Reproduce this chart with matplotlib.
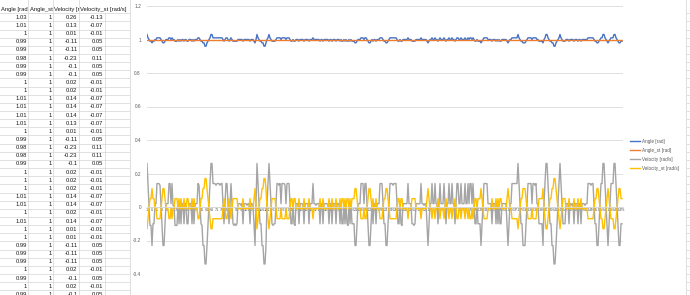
import matplotlib.pyplot as plt
from matplotlib.patches import Rectangle
from matplotlib.transforms import Bbox
import numpy as np

# sheet columns A-D
headers = ["Angle [rad]", "Angle_st [rad]", "Velocity [rad/s]", "Velocity_st [rad/s]"]

# series (first 35 rows are the ones visible in the sheet)
velocity = [
    0.26, 0.13, 0.01, -0.11, -0.11, -0.23, -0.1, -0.1, 0.02, 0.02,
    0.14, 0.14, 0.14, 0.13, 0.01, -0.11, -0.23, -0.23, -0.1, 0.02,
    0.02, 0.02, 0.14, 0.14, 0.02, 0.14, 0.01, 0.01, -0.11, -0.11,
    -0.11, 0.02, -0.1, 0.02, -0.1,
    0.02, 0.02, -0.1, 0.02, 0.02, -0.1, -0.1, 0.02, 0.02, 0.02, -0.1, 0.02, -0.1, 0.02, 0.02, 0.02,
    0.14, 0.13, 0.02, -0.1, -0.11, -0.23, -0.23, -0.34, -0.34, -0.23, -0.1, 0.02, 0.14, 0.26, 0.26,
    0.14, 0.14, 0.14, 0.13, 0.14, 0.14, 0.14, 0.13, 0.14, 0.14,
    0.02, -0.1, 0.02, 0.14, 0.14, 0.02, -0.1, 0.02, 0.14,
    0.02, -0.1, -0.11, -0.1, -0.11, -0.1, 0.02,
    0.02, 0.02, 0.01, 0.02, -0.1, 0.02, 0.02, 0.02, 0.01, 0.02, 0.02, -0.1, 0.02, 0.02, 0.01,
    -0.1, -0.23, 0.02, 0.26, 0.14, 0.02, -0.1, -0.1, -0.23, -0.23, -0.34, -0.34, -0.23, 0.02, 0.14, 0.26,
    0.14, 0.02, -0.1, -0.11, -0.1, -0.1, 0.02,
    0.14, 0.14, 0.13, 0.14, 0.02, 0.14, 0.14, 0.14, 0.13, 0.02, 0.14, 0.14, 0.14, 0.02,
    -0.1, -0.1, 0.02, -0.1, -0.11, 0.02,
    0.02, 0.02, -0.1, 0.02, 0.02, 0.02, 0.01, -0.1, 0.02, 0.02, 0.02, 0.02, -0.1, 0.02, 0.02, 0.02, 0.14,
    0.02, 0.02, 0.01, 0.02, 0.02, 0.02, -0.1, 0.02, 0.02, -0.1, 0.02, 0.02, 0.02,
    0.02, 0.01, -0.1, 0.02, 0.02, -0.1, 0.02, 0.02, 0.02, -0.1, 0.02, 0.02, 0.02,
    -0.1, 0.02, -0.1, -0.1, 0.02, -0.1, 0.02, -0.1, -0.11, 0.02, -0.1, 0.02, -0.1, -0.1, -0.1,
    -0.23, -0.23, -0.1, 0.02, 0.02, 0.02, 0.14, 0.14, 0.14, 0.02, 0.14, 0.14, 0.02, -0.1, -0.23, -0.23,
    -0.1, 0.02, -0.1, 0.02, 0.02, -0.1, 0.02, 0.02, 0.02, 0.14, 0.14, 0.14,
    0.02, -0.1, -0.1, -0.23, -0.23, -0.1, 0.02, 0.14, 0.14, 0.14, 0.13, 0.14, 0.14, 0.14, 0.02,
    -0.1, -0.1, 0.02, -0.1, -0.11, 0.02, 0.02, 0.02, 0.02, 0.02, 0.14, 0.02, 0.02, 0.02,
    -0.1, -0.1, -0.11, -0.1, 0.02, 0.02, 0.02, 0.02, 0.02, 0.14, 0.02, 0.02, 0.01, 0.02, 0.02, -0.1, -0.23, -0.1,
    0.02, 0.02, 0.14, 0.02, 0.02, 0.14, 0.02, 0.02, -0.1, 0.02,
    0.14, 0.02, 0.02, 0.02, 0.14, 0.02, -0.1, 0.02, 0.02, 0.14,
    0.02, 0.02, 0.14, 0.02, 0.02, -0.1, 0.02, 0.14, 0.14, 0.02,
    0.02, 0.14, 0.02, 0.02, 0.02, 0.14, 0.02, 0.02,
    0.14, 0.02, 0.14, 0.14, 0.02, 0.14, 0.02, -0.1, -0.1, 0.02, -0.1, -0.1, -0.1, -0.23, -0.1,
    0.02, 0.14, 0.14, 0.14, 0.14, 0.02, 0.02,
    0.02, 0.02, -0.1, 0.02, 0.02, 0.02, -0.1, 0.02, -0.1, 0.02, -0.1, -0.1, 0.02, 0.02, 0.02, 0.02, 0.02, -0.1,
    -0.23, -0.1, 0.02, 0.02, 0.14, 0.14, 0.14, 0.14, 0.14, 0.14, 0.26,
    0.14, 0.02, -0.1, -0.1, -0.23, -0.23, -0.23, -0.1, 0.02, 0.14, 0.14,
    0.14, 0.14, 0.02, 0.14, 0.14, 0.13, 0.14, 0.02, 0.02, -0.1, -0.1, -0.1, -0.1, -0.23,
    0.02, 0.14, 0.26, 0.26, 0.14, 0.02, -0.1, -0.1, -0.23, -0.23, -0.34, -0.34,
    -0.23, -0.1, 0.02, 0.14, 0.26, 0.14, 0.02, -0.1, -0.1, -0.1, 0.02,
    0.02, 0.02, -0.1, 0.02, 0.02, 0.01, 0.02, -0.1, 0.02, 0.02, 0.02,
    -0.1, 0.02, 0.02, -0.1, 0.02, 0.02, 0.02, 0.01, 0.02, 0.02,
    0.14, 0.14, 0.14, 0.13, 0.14, 0.14, 0.02, -0.1, -0.1, -0.23, -0.23, -0.1,
    0.02, 0.14, 0.14, 0.26, 0.26, 0.14, 0.02, -0.1, -0.23, -0.1, 0.02, 0.14,
    0.14, 0.14, 0.26, 0.26, 0.14, 0.02, -0.1, -0.23, -0.23, -0.1, -0.1,
]

velocity_st = [
    -0.13, -0.07, -0.01, 0.05, 0.05, 0.11, 0.05, 0.05, -0.01, -0.01,
    -0.07, -0.07, -0.07, -0.07, -0.01, 0.05, 0.11, 0.11, 0.05, -0.01,
    -0.01, -0.01, -0.07, -0.07, -0.01, -0.07, -0.01, -0.01, 0.05, 0.05,
    0.05, -0.01, 0.05, -0.01, 0.05,
    -0.01, -0.01, 0.05, -0.01, -0.01, 0.05, 0.05, -0.01, -0.01, -0.01, 0.05, -0.01, 0.05, -0.01, -0.01, -0.01,
    -0.07, -0.07, -0.01, 0.05, 0.05, 0.11, 0.11, 0.17, 0.17, 0.11, 0.05, -0.01, -0.07, -0.13, -0.13,
    -0.07, -0.07, -0.07, -0.07, -0.07, -0.07, -0.07, -0.07, -0.07, -0.07,
    -0.01, 0.05, -0.01, -0.07, -0.07, -0.01, 0.05, -0.01, -0.07,
    -0.01, 0.05, 0.05, 0.05, 0.05, 0.05, -0.01,
    -0.01, -0.01, -0.01, -0.01, 0.05, -0.01, -0.01, -0.01, -0.01, -0.01, -0.01, 0.05, -0.01, -0.01, -0.01,
    0.05, 0.11, -0.01, -0.13, -0.07, -0.01, 0.05, 0.05, 0.11, 0.11, 0.17, 0.17, 0.11, -0.01, -0.07, -0.13,
    -0.07, -0.01, 0.05, 0.05, 0.05, 0.05, -0.01,
    -0.07, -0.07, -0.07, -0.07, -0.01, -0.07, -0.07, -0.07, -0.07, -0.01, -0.07, -0.07, -0.07, -0.01,
    0.05, 0.05, -0.01, 0.05, 0.05, -0.01,
    -0.01, -0.01, 0.05, -0.01, -0.01, -0.01, -0.01, 0.05, -0.01, -0.01, -0.01, -0.01, 0.05, -0.01, -0.01, -0.01, -0.07,
    -0.01, -0.01, -0.01, -0.01, -0.01, -0.01, 0.05, -0.01, -0.01, 0.05, -0.01, -0.01, -0.01,
    -0.01, -0.01, 0.05, -0.01, -0.01, 0.05, -0.01, -0.01, -0.01, 0.05, -0.01, -0.01, -0.01,
    0.05, -0.01, 0.05, 0.05, -0.01, 0.05, -0.01, 0.05, 0.05, -0.01, 0.05, -0.01, 0.05, 0.05, 0.05,
    0.11, 0.11, 0.05, -0.01, -0.01, -0.01, -0.07, -0.07, -0.07, -0.01, -0.07, -0.07, -0.01, 0.05, 0.11, 0.11,
    0.05, -0.01, 0.05, -0.01, -0.01, 0.05, -0.01, -0.01, -0.01, -0.07, -0.07, -0.07,
    -0.01, 0.05, 0.05, 0.11, 0.11, 0.05, -0.01, -0.07, -0.07, -0.07, -0.07, -0.07, -0.07, -0.07, -0.01,
    0.05, 0.05, -0.01, 0.05, 0.05, -0.01, -0.01, -0.01, -0.01, -0.01, -0.07, -0.01, -0.01, -0.01,
    0.05, 0.05, 0.05, 0.05, -0.01, -0.01, -0.01, -0.01, -0.01, -0.07, -0.01, -0.01, -0.01, -0.01, -0.01, 0.05, 0.11, 0.05,
    -0.01, -0.01, -0.07, -0.01, -0.01, -0.07, -0.01, -0.01, 0.05, -0.01,
    -0.07, -0.01, -0.01, -0.01, -0.07, -0.01, 0.05, -0.01, -0.01, -0.07,
    -0.01, -0.01, -0.07, -0.01, -0.01, 0.05, -0.01, -0.07, -0.07, -0.01,
    -0.01, -0.07, -0.01, -0.01, -0.01, -0.07, -0.01, -0.01,
    -0.07, -0.01, -0.07, -0.07, -0.01, -0.07, -0.01, 0.05, 0.05, -0.01, 0.05, 0.05, 0.05, 0.11, 0.05,
    -0.01, -0.07, -0.07, -0.07, -0.07, -0.01, -0.01,
    -0.01, -0.01, 0.05, -0.01, -0.01, -0.01, 0.05, -0.01, 0.05, -0.01, 0.05, 0.05, -0.01, -0.01, -0.01, -0.01, -0.01, 0.05,
    0.11, 0.05, -0.01, -0.01, -0.07, -0.07, -0.07, -0.07, -0.07, -0.07, -0.13,
    -0.07, -0.01, 0.05, 0.05, 0.11, 0.11, 0.11, 0.05, -0.01, -0.07, -0.07,
    -0.07, -0.07, -0.01, -0.07, -0.07, -0.07, -0.07, -0.01, -0.01, 0.05, 0.05, 0.05, 0.05, 0.11,
    -0.01, -0.07, -0.13, -0.13, -0.07, -0.01, 0.05, 0.05, 0.11, 0.11, 0.17, 0.17,
    0.11, 0.05, -0.01, -0.07, -0.13, -0.07, -0.01, 0.05, 0.05, 0.05, -0.01,
    -0.01, -0.01, 0.05, -0.01, -0.01, -0.01, -0.01, 0.05, -0.01, -0.01, -0.01,
    0.05, -0.01, -0.01, 0.05, -0.01, -0.01, -0.01, -0.01, -0.01, -0.01,
    -0.07, -0.07, -0.07, -0.07, -0.07, -0.07, -0.01, 0.05, 0.05, 0.11, 0.11, 0.05,
    -0.01, -0.07, -0.07, -0.13, -0.13, -0.07, -0.01, 0.05, 0.11, 0.05, -0.01, -0.07,
    -0.07, -0.07, -0.13, -0.13, -0.07, -0.01, 0.05, 0.11, 0.11, 0.05, 0.05,
]

angle = [
    1.03, 1.01, 1, 0.99, 0.99, 0.98, 0.99, 0.99, 1, 1,
    1.01, 1.01, 1.01, 1.01, 1, 0.99, 0.98, 0.98, 0.99, 1,
    1, 1, 1.01, 1.01, 1, 1.01, 1, 1, 0.99, 0.99,
    0.99, 1, 0.99, 1, 0.99,
    1, 1, 0.99, 1, 1, 0.99, 0.99, 1, 1, 1, 0.99, 1, 0.99, 1, 1, 1,
    1.01, 1.01, 1, 0.99, 0.99, 0.98, 0.98, 0.96, 0.96, 0.98, 0.99, 1, 1.01, 1.03, 1.03,
    1.01, 1.01, 1.01, 1.01, 1.01, 1.01, 1.01, 1.01, 1.01, 1.01,
    1, 0.99, 1, 1.01, 1.01, 1, 0.99, 1, 1.01,
    1, 0.99, 0.99, 0.99, 0.99, 0.99, 1,
    1, 1, 1, 1, 0.99, 1, 1, 1, 1, 1, 1, 0.99, 1, 1, 1,
    0.99, 0.98, 1, 1.03, 1.01, 1, 0.99, 0.99, 0.98, 0.98, 0.96, 0.96, 0.98, 1, 1.01, 1.03,
    1.01, 1, 0.99, 0.99, 0.99, 0.99, 1,
    1.01, 1.01, 1.01, 1.01, 1, 1.01, 1.01, 1.01, 1.01, 1, 1.01, 1.01, 1.01, 1,
    0.99, 0.99, 1, 0.99, 0.99, 1,
    1, 1, 0.99, 1, 1, 1, 1, 0.99, 1, 1, 1, 1, 0.99, 1, 1, 1, 1.01,
    1, 1, 1, 1, 1, 1, 0.99, 1, 1, 0.99, 1, 1, 1,
    1, 1, 0.99, 1, 1, 0.99, 1, 1, 1, 0.99, 1, 1, 1,
    0.99, 1, 0.99, 0.99, 1, 0.99, 1, 0.99, 0.99, 1, 0.99, 1, 0.99, 0.99, 0.99,
    0.98, 0.98, 0.99, 1, 1, 1, 1.01, 1.01, 1.01, 1, 1.01, 1.01, 1, 0.99, 0.98, 0.98,
    0.99, 1, 0.99, 1, 1, 0.99, 1, 1, 1, 1.01, 1.01, 1.01,
    1, 0.99, 0.99, 0.98, 0.98, 0.99, 1, 1.01, 1.01, 1.01, 1.01, 1.01, 1.01, 1.01, 1,
    0.99, 0.99, 1, 0.99, 0.99, 1, 1, 1, 1, 1, 1.01, 1, 1, 1,
    0.99, 0.99, 0.99, 0.99, 1, 1, 1, 1, 1, 1.01, 1, 1, 1, 1, 1, 0.99, 0.98, 0.99,
    1, 1, 1.01, 1, 1, 1.01, 1, 1, 0.99, 1,
    1.01, 1, 1, 1, 1.01, 1, 0.99, 1, 1, 1.01,
    1, 1, 1.01, 1, 1, 0.99, 1, 1.01, 1.01, 1,
    1, 1.01, 1, 1, 1, 1.01, 1, 1,
    1.01, 1, 1.01, 1.01, 1, 1.01, 1, 0.99, 0.99, 1, 0.99, 0.99, 0.99, 0.98, 0.99,
    1, 1.01, 1.01, 1.01, 1.01, 1, 1,
    1, 1, 0.99, 1, 1, 1, 0.99, 1, 0.99, 1, 0.99, 0.99, 1, 1, 1, 1, 1, 0.99,
    0.98, 0.99, 1, 1, 1.01, 1.01, 1.01, 1.01, 1.01, 1.01, 1.03,
    1.01, 1, 0.99, 0.99, 0.98, 0.98, 0.98, 0.99, 1, 1.01, 1.01,
    1.01, 1.01, 1, 1.01, 1.01, 1.01, 1.01, 1, 1, 0.99, 0.99, 0.99, 0.99, 0.98,
    1, 1.01, 1.03, 1.03, 1.01, 1, 0.99, 0.99, 0.98, 0.98, 0.96, 0.96,
    0.98, 0.99, 1, 1.01, 1.03, 1.01, 1, 0.99, 0.99, 0.99, 1,
    1, 1, 0.99, 1, 1, 1, 1, 0.99, 1, 1, 1,
    0.99, 1, 1, 0.99, 1, 1, 1, 1, 1, 1,
    1.01, 1.01, 1.01, 1.01, 1.01, 1.01, 1, 0.99, 0.99, 0.98, 0.98, 0.99,
    1, 1.01, 1.01, 1.03, 1.03, 1.01, 1, 0.99, 0.98, 0.99, 1, 1.01,
    1.01, 1.01, 1.03, 1.03, 1.01, 1, 0.99, 0.98, 0.98, 0.99, 0.99,
]

angle_st = [1.0] * len(angle)

n_rows_shown = 35
label_step = 5

fig = plt.figure(figsize=(6.9, 2.95), dpi=100)
H = 295

# --- spreadsheet behind the chart (pixel coordinates) ---
sheet = fig.add_axes([0, 0, 1, 1])
sheet.set_xlim(0, 690)
sheet.set_ylim(H, 0)
sheet.axis('off')

grid_c = '#D4D4D4'
row_top = 13.2
row_h = 8.15
col_edges = [0, 28.3, 53.3, 79, 105, 130]
for k in range(n_rows_shown + 1):
    y = row_top + k * row_h
    sheet.plot([0, 690], [y, y], color=grid_c, lw=0.5, zorder=1)
for i, xe in enumerate(col_edges[1:-1]):
    y0 = row_top if i == 3 else 0
    sheet.plot([xe, xe], [y0, H], color=grid_c, lw=0.5, zorder=1)

cell_font = dict(family=['Liberation Sans', 'DejaVu Sans'], fontsize=4.2, color='#1a1a1a')
for j, h in enumerate(headers):
    x1 = col_edges[j + 1] if j < 3 else 130
    t = sheet.text(col_edges[j] + 1.2, 9.0, h, ha='left', va='center', zorder=3, **cell_font)
    t.set_clip_box(Bbox([[col_edges[j], H - row_top], [x1, H]]))
    t.set_clip_on(True)

cols = [angle, angle_st, velocity, velocity_st]
for r in range(n_rows_shown):
    yc = row_top + (r + 0.5) * row_h
    for j, col in enumerate(cols):
        s = '%g' % col[r]
        sheet.text(col_edges[j + 1] - 1.5, yc, s, ha='right', va='center', zorder=3, **cell_font)

sheet.add_patch(Rectangle((130, -2), 556, H + 4, facecolor='white',
                          edgecolor='#D9D9D9', lw=0.6, zorder=2))

# --- chart ---
ax = fig.add_axes([146.5 / 690, (H - 274) / H, 476 / 690, 268 / H])
ax.set_facecolor('none')

ax.plot(np.arange(len(angle)), angle, color='#4472C4', lw=1.0, label='Angle [rad]')
ax.plot(np.arange(len(angle_st)), angle_st, color='#ED7D31', lw=1.0, label='Angle_st [rad]')
ax.plot(np.arange(len(velocity)), velocity, color='#A5A5A5', lw=1.0, label='Velocity [rad/s]')
ax.plot(np.arange(len(velocity_st)), velocity_st, color='#FFC000', lw=1.0, label='Velocity_st [rad/s]')

ax.set_xlim(-0.5, len(angle) - 0.5)
ax.set_ylim(-0.4, 1.2)
ax.set_yticks(np.arange(-0.4, 1.21, 0.2))
ax.set_yticklabels(['-0.4', '-0.2', '0', '0.2', '0.4', '0.6', '0.8', '1', '1.2'])
ticks = np.arange(0, len(angle), label_step)
ax.set_xticks(ticks)
ax.set_xticklabels([str(t + 1) for t in ticks], rotation=90)

ax.yaxis.grid(True, color='#D9D9D9', lw=0.6)
ax.set_axisbelow(True)
for s in ['left', 'right', 'top']:
    ax.spines[s].set_visible(False)
ax.spines['bottom'].set_position(('data', 0))
ax.spines['bottom'].set_color('#D9D9D9')
ax.spines['bottom'].set_linewidth(0.6)
ax.tick_params(axis='y', length=0, pad=4, labelsize=3.4, labelcolor='#595959')
ax.tick_params(axis='x', length=0, pad=0.8, labelsize=2.7, labelcolor='#595959')
for lab in ax.get_xticklabels() + ax.get_yticklabels():
    lab.set_family(['Liberation Sans', 'DejaVu Sans'])

leg = ax.legend(loc='upper left', bbox_to_anchor=(630 / 690, 1 - 139 / H),
                bbox_transform=fig.transFigure, frameon=False,
                prop={'family': 'Liberation Sans', 'size': 3.3},
                handlelength=2.2, handletextpad=0.5, labelspacing=0.85,
                borderpad=0, borderaxespad=0)
for t in leg.get_texts():
    t.set_color('#595959')

fig.savefig('out.png', dpi=100)
